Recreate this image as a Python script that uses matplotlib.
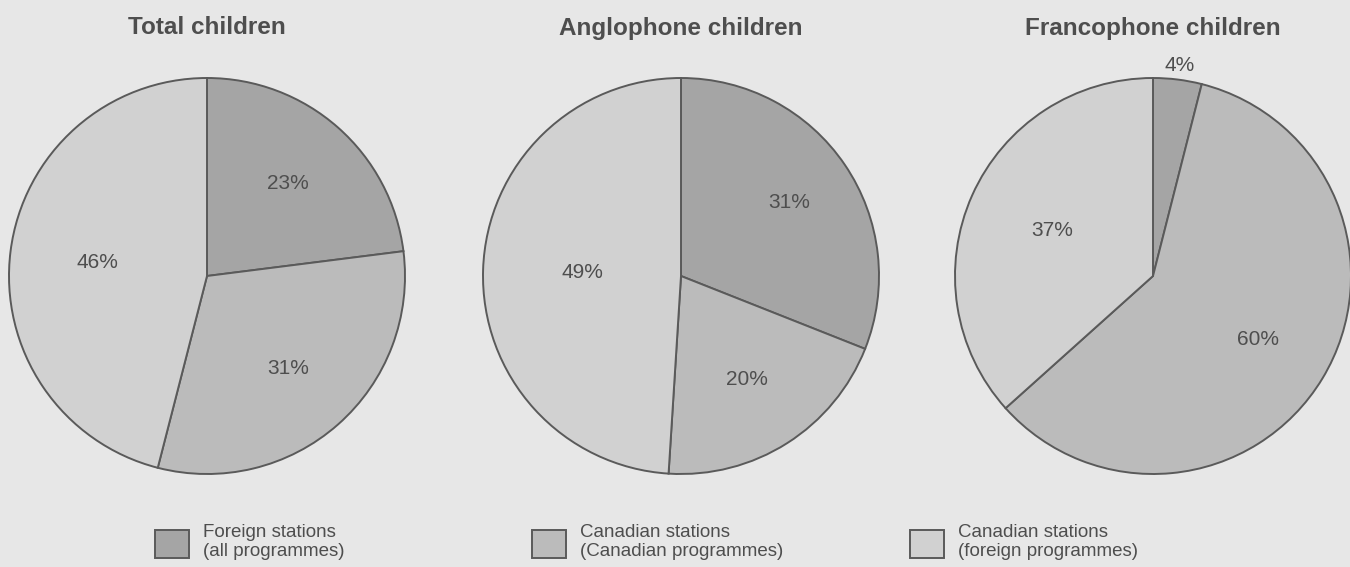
import matplotlib.pyplot as plt
import numpy as np

plt.rcParams['font.family'] = ['Liberation Sans', 'DejaVu Sans']

# data
titles = ['Total children', 'Anglophone children', 'Francophone children']
categories = ['Foreign stations\n(all programmes)',
              'Canadian stations\n(Canadian programmes)',
              'Canadian stations\n(foreign programmes)']
total = [23, 31, 46]
anglophone = [31, 20, 49]
francophone = [4, 60, 37]
label_dist = [[0.62, 0.62, 0.56], [0.66, 0.62, 0.50], [1.07, 0.62, 0.56]]

colors = ['#a5a5a5', '#bbbbbb', '#d1d1d1']
edge = '#5a5a5a'
bg = '#e7e7e7'
text_col = '#4e4e4e'

W, H = 1350, 567
fig = plt.figure(figsize=(13.5, 5.67), dpi=100, facecolor=bg)

centers = [207, 681, 1153]
cy = 276
R = 198

for i, vals in enumerate([total, anglophone, francophone]):
    cx = centers[i]
    ax = fig.add_axes([(cx - R) / W, (H - cy - R) / H, 2 * R / W, 2 * R / H])
    wedges, _ = ax.pie(vals, colors=colors, startangle=90, counterclock=False,
                       wedgeprops=dict(edgecolor=edge, linewidth=1.4))
    ax.set_aspect('equal')
    ax.set_xlim(-1.0, 1.0)
    ax.set_ylim(-1.0, 1.0)
    ax.axis('off')
    for j, w in enumerate(wedges):
        mid = np.deg2rad((w.theta1 + w.theta2) / 2)
        d = label_dist[i][j]
        ax.text(d * np.cos(mid), d * np.sin(mid), f'{vals[j]}%',
                ha='center', va='center', fontsize=15, color=text_col,
                clip_on=False)
    fig.text(cx / W, 1 - 28 / H, titles[i], ha='center', va='center',
             fontsize=17.5, fontweight='bold', color=text_col)

# legend
leg_x = [155, 532, 910]
for k in range(3):
    fig.patches.append(plt.Rectangle((leg_x[k] / W, 1 - 558 / H), 34 / W, 28 / H,
                                     transform=fig.transFigure, facecolor=colors[k],
                                     edgecolor=edge, linewidth=1.4))
    fig.text((leg_x[k] + 48) / W, 1 - 542 / H, categories[k], ha='left', va='center',
             fontsize=13.5, color=text_col, linespacing=1.2)

fig.savefig('out.png', dpi=100, facecolor=bg)
